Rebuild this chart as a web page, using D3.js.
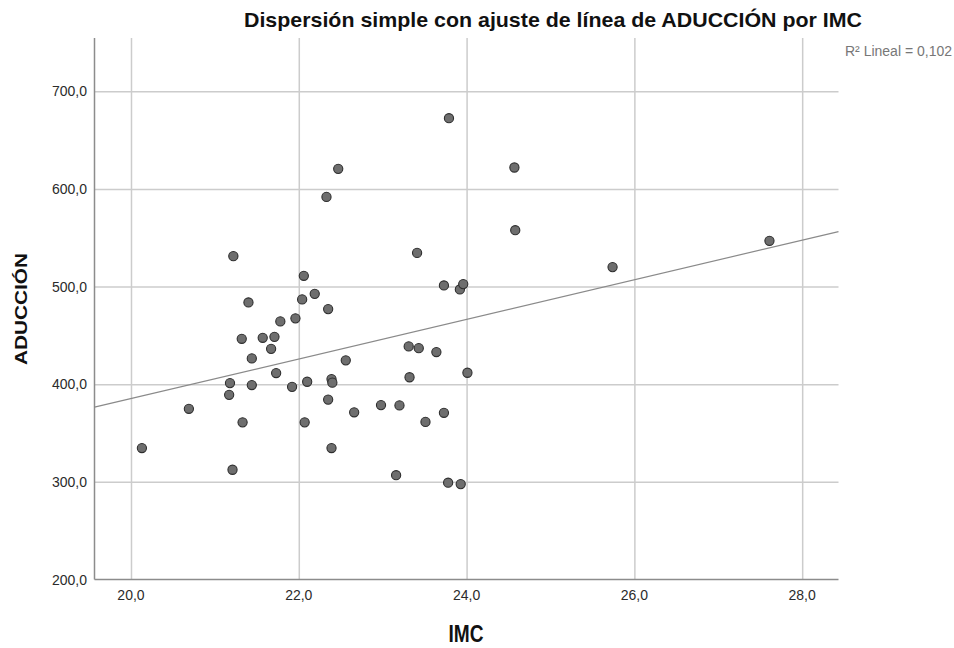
<!DOCTYPE html>
<html>
<head>
<meta charset="utf-8">
<script src="https://cdn.jsdelivr.net/npm/d3@7"></script>
<style>
  html, body { margin: 0; padding: 0; background: #fff; }
  svg { display: block; font-family: "Liberation Sans", Arial, sans-serif; }
</style>
</head>
<body>
<svg id="chart" width="954" height="648"></svg>
<script>
// IMC (x) and ADUCCIÓN (y) for each subject
const imc = [
  20.13, 20.69, 21.17, 21.18, 21.22, 21.21, 21.32, 21.33, 21.40, 21.44,
  21.44, 21.57, 21.67, 21.71, 21.73, 21.78, 21.92, 21.96, 22.04, 22.06,
  22.07, 22.10, 22.19, 22.33, 22.35, 22.35, 22.39, 22.39, 22.40, 22.47,
  22.56, 22.66, 22.98, 23.16, 23.20, 23.31, 23.32, 23.41, 23.43, 23.51,
  23.64, 23.73, 23.73, 23.78, 23.79, 23.92, 23.93, 23.96, 24.01, 24.57,
  24.58, 25.74, 27.61
];
const aduccion = [
  334.6, 374.8, 389.1, 401.1, 531.1, 312.4, 446.5, 360.9, 483.7, 426.4,
  399.1, 447.5, 436.2, 448.5, 411.4, 464.3, 397.3, 467.4, 486.8, 511.0,
  360.9, 402.5, 492.5, 591.8, 476.9, 384.2, 334.6, 405.2, 401.6, 620.5,
  424.4, 371.2, 378.6, 306.8, 378.3, 438.7, 407.1, 534.5, 436.9, 361.4,
  432.9, 501.1, 370.7, 299.1, 672.4, 497.0, 297.7, 502.5, 411.7, 621.9,
  557.7, 519.9, 546.8
];

const xTicks = [20, 22, 24, 26, 28];
const yTicks = [200, 300, 400, 500, 600, 700];
const titleText = "Dispersión simple con ajuste de línea de ADUCCIÓN por IMC";
const xLabel = "IMC";
const yLabel = "ADUCCIÓN";

const svg = d3.select("#chart");
const plot = { left: 94.5, right: 838.5, top: 38, bottom: 579.5 };

const x = d3.scaleLinear().domain([19.565, 28.433]).range([plot.left, plot.right]);
const y = d3.scaleLinear().domain([200, 754.5]).range([plot.bottom, plot.top]);

const fmt = v => d3.format(".1f")(v).replace(".", ",");

// gridlines
svg.append("g")
  .attr("transform", `translate(0,${plot.bottom})`)
  .call(d3.axisBottom(x).tickValues(xTicks).tickSize(-(plot.bottom - plot.top)).tickFormat(""))
  .call(g => g.select(".domain").remove())
  .call(g => g.selectAll("line").attr("stroke", "#cccccc").attr("stroke-width", 1.5));

svg.append("g")
  .attr("transform", `translate(${plot.left},0)`)
  .call(d3.axisLeft(y).tickValues(yTicks.filter(v => v > 200)).tickSize(-(plot.right - plot.left)).tickFormat(""))
  .call(g => g.select(".domain").remove())
  .call(g => g.selectAll("line").attr("stroke", "#cccccc").attr("stroke-width", 1.5));

// axis lines
svg.append("line")
  .attr("x1", plot.left).attr("x2", plot.left)
  .attr("y1", plot.top).attr("y2", plot.bottom)
  .attr("stroke", "#8c8c8c").attr("stroke-width", 1.5);
svg.append("line")
  .attr("x1", plot.left).attr("x2", plot.right)
  .attr("y1", plot.bottom).attr("y2", plot.bottom)
  .attr("stroke", "#8c8c8c").attr("stroke-width", 1.5);

// tick labels
svg.append("g").selectAll("text")
  .data(xTicks).join("text")
  .attr("x", d => x(d)).attr("y", 600)
  .attr("text-anchor", "middle")
  .attr("font-size", 14).attr("fill", "#2b2b2b")
  .text(fmt);

svg.append("g").selectAll("text")
  .data(yTicks).join("text")
  .attr("x", 87).attr("y", d => y(d) + 5)
  .attr("text-anchor", "end")
  .attr("font-size", 14).attr("fill", "#2b2b2b")
  .text(fmt);

// least-squares fit line
const n = imc.length;
const mx = d3.mean(imc), my = d3.mean(aduccion);
let sxy = 0, sxx = 0, syy = 0;
for (let i = 0; i < n; i++) {
  sxy += (imc[i] - mx) * (aduccion[i] - my);
  sxx += (imc[i] - mx) ** 2;
  syy += (aduccion[i] - my) ** 2;
}
const slope = sxy / sxx;
const intercept = my - slope * mx;
const r2 = (sxy * sxy) / (sxx * syy);
const [x0, x1] = x.domain();
svg.append("line")
  .attr("x1", x(x0)).attr("y1", y(intercept + slope * x0))
  .attr("x2", x(x1)).attr("y2", y(intercept + slope * x1))
  .attr("stroke", "#8a8a8a").attr("stroke-width", 1.2);

// points
svg.append("g").selectAll("circle")
  .data(imc.map((v, i) => [v, aduccion[i]])).join("circle")
  .attr("cx", d => x(d[0])).attr("cy", d => y(d[1]))
  .attr("r", 4.6)
  .attr("fill", "#6e6e6e")
  .attr("stroke", "#2e2e2e").attr("stroke-width", 1.1);

// titles
svg.append("text")
  .attr("x", 553).attr("y", 27)
  .attr("text-anchor", "middle")
  .attr("font-size", 21).attr("font-weight", "bold").attr("fill", "#111")
  .attr("textLength", 618).attr("lengthAdjust", "spacingAndGlyphs")
  .text(titleText);

svg.append("text")
  .attr("x", 466).attr("y", 642)
  .attr("text-anchor", "middle")
  .attr("font-size", 23).attr("font-weight", "bold").attr("fill", "#111")
  .attr("textLength", 35).attr("lengthAdjust", "spacingAndGlyphs")
  .text(xLabel);

svg.append("text")
  .attr("transform", "translate(27,309) rotate(-90)")
  .attr("text-anchor", "middle")
  .attr("font-size", 16.5).attr("font-weight", "bold").attr("fill", "#111")
  .attr("textLength", 112).attr("lengthAdjust", "spacingAndGlyphs")
  .text(yLabel);

// R² annotation
svg.append("text")
  .attr("x", 952).attr("y", 56)
  .attr("text-anchor", "end")
  .attr("font-size", 14).attr("fill", "#777")
  .text("R² Lineal = " + d3.format(".3f")(r2).replace(".", ","));
</script>
</body>
</html>
